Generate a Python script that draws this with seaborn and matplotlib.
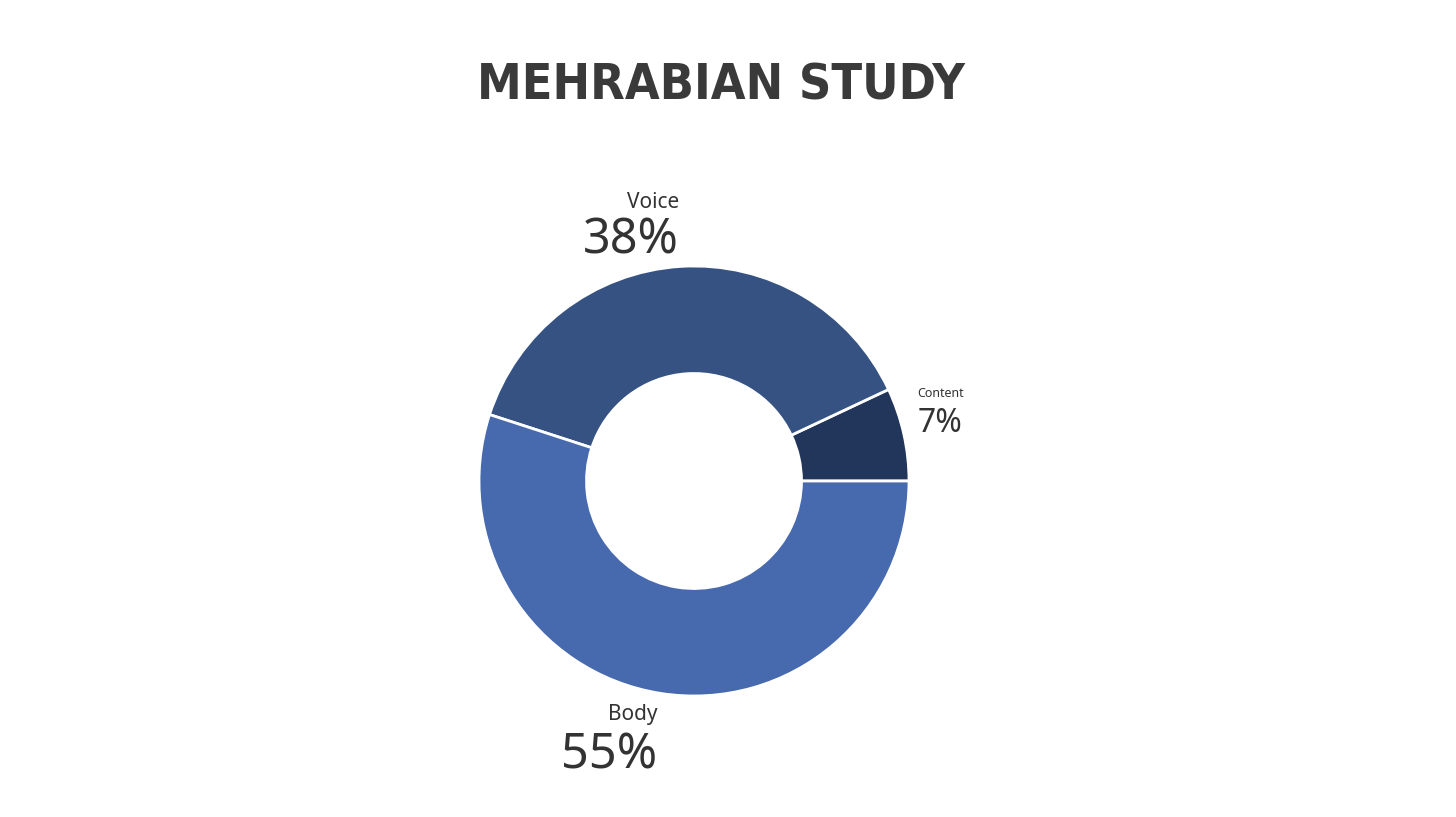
import numpy as np
import matplotlib
matplotlib.use("Agg")
import matplotlib.pyplot as plt
import seaborn as sns

# Data
categories = ["Content", "Voice", "Body"]
shares = [7, 38, 55]
slice_colors = ["#22355a", "#355283", "#4769ae"]

# label anchors (x, name y, pct y, alignment) in radius units
label_pos = {
    "Content": (1.04, 0.39, 0.23, "left"),
    "Voice": (-0.07, 1.27, 1.06, "right"),
    "Body": (-0.17, -1.11, -1.335, "right"),
}
name_size = {"Content": 9, "Voice": 15, "Body": 15}
pct_size = {"Content": 23, "Voice": 35, "Body": 35}

sns.set_theme(style="white")
plt.rcParams["font.family"] = ["Noto Sans", "DejaVu Sans"]

W, H = 1456, 817
fig = plt.figure(figsize=(W / 100, H / 100), dpi=100)

# pie centre at pixel (694, 481), outer radius 215 px
R = 215
lim = 1.5
cx, cy = 694, H - 481
half = lim * R
ax = fig.add_axes([(cx - half) / W, (cy - half) / H, 2 * half / W, 2 * half / H])

palette = sns.color_palette(slice_colors)
wedges, _ = ax.pie(
    shares,
    colors=palette,
    startangle=0,
    counterclock=True,
    wedgeprops=dict(width=0.5, edgecolor="white", linewidth=2),
)
ax.set_xlim(-lim, lim)
ax.set_ylim(-lim, lim)
ax.set_aspect("equal")
ax.axis("off")

text_color = "#333333"
for cat, val in zip(categories, shares):
    x, yn, yp, ha = label_pos[cat]
    ax.text(x, yn, cat, ha=ha, va="baseline", fontsize=name_size[cat],
            color=text_color, clip_on=False)
    ax.text(x, yp, f"{val}%", ha=ha, va="baseline", fontsize=pct_size[cat],
            color=text_color, clip_on=False)

fig.text(721 / W, 1 - 99 / H, "MEHRABIAN STUDY", ha="center", va="baseline",
         fontsize=36, fontweight="bold", color="#3a3a3a",
         family=["DejaVu Sans"], fontstretch="condensed")

fig.savefig("out.png", dpi=100, facecolor="white")
